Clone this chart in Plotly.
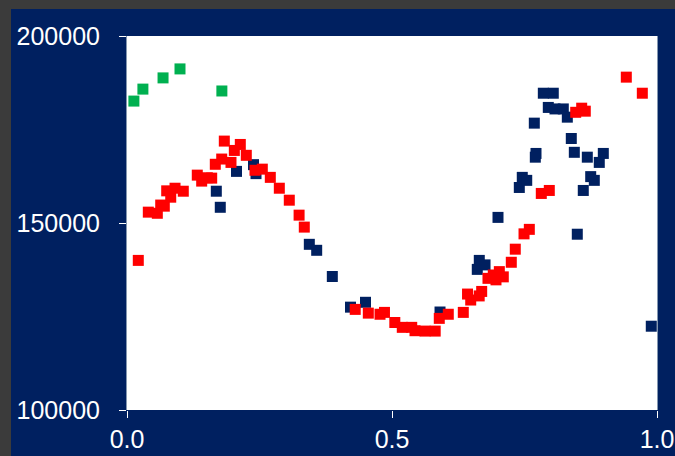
import plotly.graph_objects as go

# Series data (x in 0..1, y values)
green_x = [0.013, 0.030, 0.068, 0.100, 0.179]
green_y = [182600, 185800, 188800, 191200, 185300]

red_x = [0.0213, 0.0402, 0.0572, 0.0636, 0.0704, 0.0749, 0.0825, 0.0906, 0.1062, 0.1326,
         0.1409, 0.1515, 0.1598, 0.1666, 0.1787, 0.1836, 0.1962, 0.2025, 0.2138, 0.2251,
         0.2415, 0.2553, 0.2704, 0.2874, 0.3062, 0.3247, 0.3345, 0.4306, 0.4553, 0.4774,
         0.4858, 0.5053, 0.5194, 0.5372, 0.5434, 0.5623, 0.5815, 0.5892, 0.6062, 0.6345,
         0.6425, 0.6485, 0.6645, 0.6692, 0.6811, 0.6911, 0.6962, 0.7025, 0.7100, 0.7251,
         0.7326, 0.7491, 0.7591, 0.7817, 0.7968, 0.8466, 0.8579, 0.8647, 0.9421, 0.9723]
red_y = [140000, 152900, 152600, 154800, 154500, 158600, 156900, 159300, 158500, 162800,
         161200, 162100, 162000, 165700, 167100, 171900, 166200, 169400, 171000, 168100,
         164100, 164400, 162200, 159300, 156100, 152100, 148900, 126900, 125900, 125600,
         126100, 123400, 122100, 122100, 121200, 121100, 121100, 124500, 125600, 126100,
         131000, 129400, 130500, 131700, 135200, 136100, 134800, 137000, 135600, 139500,
         143000, 147100, 148300, 157900, 158700, 179600, 180700, 179900, 189000, 184700]

navy_x = [0.1685, 0.1760, 0.2066, 0.2387, 0.2434, 0.3440, 0.3579, 0.3874, 0.4217, 0.4500,
          0.5906, 0.6609, 0.6647, 0.6755, 0.7000, 0.7402, 0.7458, 0.7542, 0.7685, 0.7704,
          0.7717, 0.7855, 0.8043, 0.7949, 0.8075, 0.8232, 0.8308, 0.8383, 0.8440, 0.8496,
          0.8609, 0.8685, 0.8749, 0.8817, 0.8911, 0.8987, 0.9892]
navy_y = [158500, 154200, 163800, 165600, 163200, 144300, 142700, 135700, 127500, 128800,
          126200, 137600, 140000, 138800, 151500, 159500, 162200, 161400, 176700, 167600,
          168600, 184700, 184700, 180900, 180500, 180500, 178300, 172600, 168900, 147000,
          158700, 167600, 162400, 161400, 166200, 168600, 122400]

y_ticks = [100000, 150000, 200000]
y_tick_labels = ["100000", "150000", "200000"]
x_ticks = [0.0, 0.5, 1.0]
x_tick_labels = ["0.0", "0.5", "1.0"]

NAVY = "#002060"
FONT = "Arial, Liberation Sans, sans-serif"
FS = 25

fig = go.Figure()
marker_common = dict(symbol="square", size=11, line=dict(width=0))
fig.add_trace(go.Scatter(x=navy_x, y=navy_y, mode="markers",
                         marker=dict(color=NAVY, **marker_common), cliponaxis=False))
fig.add_trace(go.Scatter(x=red_x, y=red_y, mode="markers",
                         marker=dict(color="#ff0000", **marker_common), cliponaxis=False))
fig.add_trace(go.Scatter(x=green_x, y=green_y, mode="markers",
                         marker=dict(color="#00b050", **marker_common), cliponaxis=False))

L, R, T, B = 127, 18, 36, 46

# gray strips at left and top edge of the picture (pixel-sized, anchored to plot area)
fig.add_shape(type="rect", xref="paper", yref="paper",
              xsizemode="pixel", xanchor=0, x0=-L - 2, x1=-L + 11,
              y0=-0.5, y1=1.5,
              fillcolor="#3b3b3b", line=dict(width=0), layer="below")
fig.add_shape(type="rect", xref="paper", yref="paper",
              ysizemode="pixel", yanchor=1, y0=T - 9, y1=T + 2,
              x0=-0.5, x1=1.5,
              fillcolor="#3b3b3b", line=dict(width=0), layer="below")

fig.update_layout(
    width=675, height=456,
    margin=dict(l=L, r=R, t=T, b=B, pad=0, autoexpand=False),
    paper_bgcolor=NAVY, plot_bgcolor="white",
    showlegend=False,
    font=dict(family=FONT, color="white", size=FS),
    xaxis=dict(range=[0, 1], tickvals=x_ticks, ticktext=x_tick_labels,
               automargin=False,
               showgrid=False, zeroline=False, showline=False,
               ticks="outside", ticklen=7, tickcolor="white", tickwidth=1,
               tickfont=dict(size=FS, color="white", family=FONT)),
    yaxis=dict(range=[100000, 200000], tickvals=y_ticks, ticktext=y_tick_labels,
               automargin=False,
               showgrid=False, zeroline=False, showline=True, mirror=True,
               linecolor="#8497b0", linewidth=1,
               ticks="outside", ticklen=7, tickcolor="white", tickwidth=1,
               ticklabelstandoff=14,
               tickfont=dict(size=FS, color="white", family=FONT)),
)

fig.write_html(
    "out.html",
    config={"displayModeBar": False},
    post_script=(
        "document.body.style.margin='0';"
        "document.body.style.overflow='hidden';"
    ),
)
